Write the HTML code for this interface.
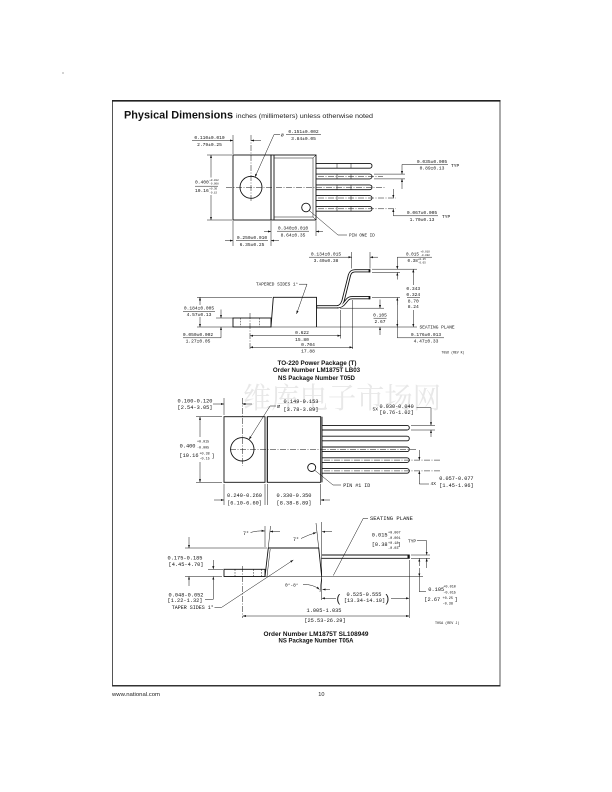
<!DOCTYPE html>
<html><head><meta charset="utf-8"><style>
html,body{margin:0;padding:0;background:#fff;}
svg{display:block;}
</style></head><body>
<svg width="612" height="792" viewBox="0 0 612 792" xmlns="http://www.w3.org/2000/svg">
<defs>
<marker id="a" viewBox="0 0 6 4" refX="6" refY="2" markerWidth="3.2" markerHeight="2.2" markerUnits="userSpaceOnUse" orient="auto-start-reverse"><path d="M0,0L6,2L0,4z" fill="#111"/></marker>
<style>
.o{fill:none;stroke:#111;stroke-width:0.9}
.d{fill:none;stroke:#111;stroke-width:0.5}
.c{fill:none;stroke:#111;stroke-width:0.5;stroke-dasharray:6 1.5 1 1.5}
.h{fill:none;stroke:#111;stroke-width:0.5;stroke-dasharray:1.6 1.2}
.ae{marker-end:url(#a)}
.as{marker-start:url(#a)}
.t{font-family:"Liberation Mono",monospace;fill:#111}
.s1{font-size:4.6px}
.s2{font-size:5.3px}
.b{font-family:"Liberation Sans",Arial,sans-serif;font-weight:bold;fill:#111}
</style>
</defs>

<!-- watermark -->
<text x="243" y="408" font-family="'Noto Serif CJK SC','Noto Sans CJK SC',serif" font-size="29" fill="#e8e8e8" textLength="198" lengthAdjust="spacingAndGlyphs">维库电子市场网</text>

<!-- page dot -->
<circle cx="63" cy="73" r="0.6" fill="#666"/>

<!-- frame -->
<rect x="112.5" y="100.5" width="387.5" height="585.5" fill="none" stroke="#555" stroke-width="1"/>
<line x1="112" y1="100.8" x2="500.5" y2="100.8" stroke="#222" stroke-width="1.6"/>
<line x1="112" y1="685.8" x2="500.5" y2="685.8" stroke="#333" stroke-width="1.5"/>

<!-- title -->
<text x="124" y="118.5" class="b" font-size="11.3" textLength="109" lengthAdjust="spacingAndGlyphs">Physical Dimensions</text>
<text x="236" y="117.8" font-family="'Liberation Sans',Arial,sans-serif" font-size="6.5" fill="#222" textLength="137" lengthAdjust="spacingAndGlyphs">inches (millimeters) unless otherwise noted</text>

<!-- ================= DRAWING 1: TOP VIEW ================= -->
<rect x="233" y="155" width="38" height="65" class="o"/>
<rect x="271" y="155" width="45" height="65" class="o"/>
<line x1="274" y1="155" x2="274" y2="220" class="o"/>
<path d="M274,158H313V217H274M316,155L313,158M316,220L313,217" class="d"/>
<circle cx="251" cy="187.3" r="11" class="o"/>
<circle cx="306" cy="207.5" r="4.3" class="o"/>
<g class="o">
<path d="M316,163.4H369.6A2.4,2.4 0 0 1 369.6,168.2H316"/>
<path d="M316,174.1H369.6A2.4,2.4 0 0 1 369.6,178.9H316"/>
<path d="M316,184.9H369.6A2.4,2.4 0 0 1 369.6,189.7H316"/>
<path d="M316,195.6H369.6A2.4,2.4 0 0 1 369.6,200.4H316"/>
<path d="M316,206.4H369.6A2.4,2.4 0 0 1 369.6,211.2H316"/>
</g>
<g class="d">
<path d="M337,163.4V168.2M351,163.4V168.2M337,174.1V178.9M351,174.1V178.9M337,184.9V189.7M351,184.9V189.7M337,195.6V200.4M351,195.6V200.4M337,206.4V211.2M351,206.4V211.2"/>
</g>
<line x1="226" y1="187.3" x2="386" y2="187.3" class="c"/>
<line x1="251" y1="135" x2="251" y2="201" class="c"/>
<line x1="318" y1="176.5" x2="383" y2="176.5" class="c"/>
<line x1="318" y1="198" x2="396" y2="198" class="c"/>
<line x1="318" y1="208.8" x2="396" y2="208.8" class="c"/>

<!-- 0.110 -->
<line x1="233" y1="135" x2="233" y2="154" class="d"/>
<line x1="192" y1="140.5" x2="233" y2="140.5" class="d ae"/>
<line x1="261" y1="140.5" x2="251" y2="140.5" class="d ae"/>
<text x="209.5" y="139" class="t s1" text-anchor="middle">0.110±0.010</text>
<text x="209.5" y="146" class="t s1" text-anchor="middle">2.79±0.25</text>
<!-- dia 0.151 -->
<polyline points="255,177 274,134.6 280,134.6" class="d as"/>
<text x="280.8" y="136.6" class="t" font-size="5">⌀</text>
<line x1="286" y1="134.6" x2="321" y2="134.6" class="d"/>
<text x="303.5" y="133" class="t s1" text-anchor="middle">0.151±0.002</text>
<text x="303.5" y="140" class="t s1" text-anchor="middle">3.84±0.05</text>
<!-- 0.400 -->
<line x1="207" y1="155" x2="232" y2="155" class="d"/>
<line x1="207" y1="220" x2="232" y2="220" class="d"/>
<line x1="211" y1="177.5" x2="211" y2="155" class="d ae"/>
<line x1="211" y1="195" x2="211" y2="220" class="d ae"/>
<text x="208.8" y="183.5" class="t s1" text-anchor="end">0.400</text>
<text x="209.3" y="180.8" class="t" font-size="2.6">+0.012</text>
<text x="209.3" y="184.6" class="t" font-size="2.6">-0.008</text>
<line x1="195" y1="186.2" x2="218" y2="186.2" class="d"/>
<text x="208.8" y="192.2" class="t s1" text-anchor="end">10.16</text>
<text x="209.3" y="189.5" class="t" font-size="2.6">+0.30</text>
<text x="209.3" y="193.3" class="t" font-size="2.6">-0.15</text>
<!-- 0.250 -->
<line x1="233" y1="221" x2="233" y2="246" class="d"/>
<line x1="271" y1="221" x2="271" y2="246" class="d"/>
<line x1="225" y1="240.6" x2="233" y2="240.6" class="d ae"/>
<line x1="279" y1="240.6" x2="271" y2="240.6" class="d ae"/>
<line x1="236" y1="240.6" x2="268" y2="240.6" class="d"/>
<text x="252" y="239.2" class="t s1" text-anchor="middle">0.250±0.010</text>
<text x="252" y="246.2" class="t s1" text-anchor="middle">6.35±0.25</text>
<!-- 0.340 -->
<line x1="316" y1="221" x2="316" y2="236" class="d"/>
<line x1="264" y1="231.5" x2="271" y2="231.5" class="d ae"/>
<line x1="323" y1="231.5" x2="316" y2="231.5" class="d ae"/>
<line x1="277" y1="231.2" x2="309" y2="231.2" class="d"/>
<text x="293" y="229.6" class="t s1" text-anchor="middle">0.340±0.010</text>
<text x="293" y="236.4" class="t s1" text-anchor="middle">8.64±0.35</text>
<!-- pin one id -->
<polyline points="309.2,210.5 338,235 347,235" class="d"/>
<text x="349" y="236.6" class="t" font-size="4.3">PIN ONE ID</text>
<!-- 0.035 -->
<line x1="374" y1="174.1" x2="405" y2="174.1" class="d"/>
<line x1="374" y1="178.9" x2="405" y2="178.9" class="d"/>
<line x1="402" y1="164.5" x2="402" y2="174.1" class="d ae"/>
<line x1="402" y1="189" x2="402" y2="178.9" class="d ae"/>
<line x1="402" y1="164.5" x2="448" y2="164.5" class="d"/>
<text x="432" y="162.8" class="t s1" text-anchor="middle">0.035±0.005</text>
<text x="432" y="169.6" class="t s1" text-anchor="middle">0.89±0.13</text>
<text x="451" y="166.8" class="t s1">TYP</text>
<!-- 0.067 -->
<line x1="393.3" y1="189" x2="393.3" y2="198" class="d ae"/>
<line x1="393.3" y1="215.8" x2="393.3" y2="208.8" class="d ae"/>
<line x1="393.3" y1="215.8" x2="438" y2="215.8" class="d"/>
<text x="422" y="214.2" class="t s1" text-anchor="middle">0.067±0.005</text>
<text x="422" y="221" class="t s1" text-anchor="middle">1.70±0.13</text>
<text x="442" y="218" class="t s1">TYP</text>

<!-- ================= DRAWING 1: SIDE VIEW ================= -->
<rect x="233" y="318" width="38" height="9" class="o"/>
<line x1="240.7" y1="318" x2="240.7" y2="327" class="h"/>
<line x1="259.5" y1="318" x2="259.5" y2="327" class="h"/>
<line x1="250" y1="313" x2="250" y2="349" class="c"/>
<path d="M271,327L273.3,297.3H316.5V327" class="o"/>
<g fill="none" stroke="#111" stroke-width="3.2">
<path d="M316.5,306.8L337,306.8Q341,306.8 343,301L349.5,275Q350.8,270.8 355,270.8L370,270.8"/>
<path d="M337,306.8Q342,306.8 345,302.5L347.5,299.5Q349,297.7 352,297.7L370,297.7"/>
</g>
<g fill="none" stroke="#fff" stroke-width="1.4">
<path d="M317.2,306.8L337,306.8Q341,306.8 343,301L349.5,275Q350.8,270.8 355,270.8L369.3,270.8"/>
<path d="M338,306.8Q342,306.8 345,302.5L347.5,299.5Q349,297.7 352,297.7L369.3,297.7"/>
</g>
<rect x="368.6" y="269.2" width="1.8" height="3.2" fill="#111"/>
<rect x="368.6" y="296.1" width="1.8" height="3.2" fill="#111"/>
<line x1="197" y1="327" x2="417" y2="327" class="d"/>
<text x="419.5" y="328.6" class="t" font-size="4.5">SEATING PLANE</text>
<text x="256" y="285.6" class="t" font-size="4.4">TAPERED SIDES 1°</text>
<polyline points="299,284.2 307,284.2 296.5,314" class="d ae"/>
<!-- 0.184 -->
<line x1="197" y1="297.3" x2="272" y2="297.3" class="d"/>
<line x1="200" y1="305" x2="200" y2="297.3" class="d ae"/>
<line x1="200" y1="317" x2="200" y2="327" class="d ae"/>
<line x1="183" y1="311.3" x2="215" y2="311.3" class="d"/>
<text x="199" y="309.7" class="t s1" text-anchor="middle">0.184±0.005</text>
<text x="199" y="316.2" class="t s1" text-anchor="middle">4.57±0.13</text>
<!-- 0.050 -->
<line x1="216" y1="318" x2="233" y2="318" class="d"/>
<line x1="221" y1="309.5" x2="221" y2="318" class="d ae"/>
<line x1="221" y1="337.8" x2="221" y2="327" class="d ae"/>
<line x1="221" y1="337.8" x2="183" y2="337.8" class="d"/>
<text x="198" y="336.2" class="t s1" text-anchor="middle">0.050±0.002</text>
<text x="198" y="342.6" class="t s1" text-anchor="middle">1.27±0.05</text>
<!-- 0.134 -->
<line x1="351.7" y1="268.5" x2="351.7" y2="252" class="d"/>
<line x1="370" y1="268.5" x2="370" y2="252" class="d"/>
<line x1="309" y1="257.2" x2="351.7" y2="257.2" class="d ae"/>
<line x1="378" y1="257.2" x2="370" y2="257.2" class="d ae"/>
<text x="326" y="255.7" class="t s1" text-anchor="middle">0.134±0.015</text>
<text x="326" y="262" class="t s1" text-anchor="middle">3.40±0.38</text>
<!-- 0.015 top right -->
<line x1="372" y1="269.2" x2="417" y2="269.2" class="d"/>
<line x1="372" y1="272.4" x2="400" y2="272.4" class="d"/>
<line x1="397.3" y1="257.2" x2="397.3" y2="269.2" class="d ae"/>
<line x1="397.3" y1="279.5" x2="397.3" y2="272.4" class="d ae"/>
<line x1="397.3" y1="257.2" x2="432" y2="257.2" class="d"/>
<text x="406" y="255.5" class="t" font-size="4.3">0.015</text>
<text x="420.5" y="252.4" class="t" font-size="2.6">+0.010</text>
<text x="420.5" y="256" class="t" font-size="2.6">-0.002</text>
<text x="407.5" y="262" class="t" font-size="4.3">0.38</text>
<text x="418" y="259.9" class="t" font-size="2.6">+0.25</text>
<text x="418" y="263.5" class="t" font-size="2.6">-0.05</text>
<!-- 0.343 -->
<line x1="413.3" y1="285" x2="413.3" y2="269.2" class="d ae"/>
<line x1="413.3" y1="310" x2="413.3" y2="327" class="d ae"/>
<text x="413.3" y="290.1" class="t s1" text-anchor="middle">0.343</text>
<text x="413.3" y="295.9" class="t s1" text-anchor="middle">0.324</text>
<line x1="407" y1="297.6" x2="420" y2="297.6" class="d"/>
<text x="413.3" y="302.7" class="t s1" text-anchor="middle">8.70</text>
<text x="413.3" y="308.2" class="t s1" text-anchor="middle">8.24</text>
<!-- 0.105 -->
<line x1="340" y1="308.2" x2="384" y2="308.2" class="d"/>
<line x1="380" y1="299.5" x2="380" y2="308.2" class="d ae"/>
<line x1="380" y1="335" x2="380" y2="327" class="d ae"/>
<text x="380" y="316.4" class="t s1" text-anchor="middle">0.105</text>
<line x1="373.5" y1="318.2" x2="386.5" y2="318.2" class="d"/>
<text x="380" y="323" class="t s1" text-anchor="middle">2.67</text>
<!-- 0.176 -->
<line x1="372" y1="297.5" x2="400" y2="297.5" class="d"/>
<line x1="397.3" y1="297.5" x2="397.3" y2="337.8" class="d"/>
<line x1="397.3" y1="305" x2="397.3" y2="297.5" class="d ae"/>
<line x1="397.3" y1="320" x2="397.3" y2="327" class="d ae"/>
<line x1="397.3" y1="337.8" x2="444" y2="337.8" class="d"/>
<text x="426" y="336.2" class="t s1" text-anchor="middle">0.176±0.013</text>
<text x="426" y="342.6" class="t s1" text-anchor="middle">4.47±0.33</text>
<!-- 0.622 / 0.704 -->
<line x1="340.7" y1="310" x2="340.7" y2="338.5" class="d"/>
<line x1="352.7" y1="300" x2="352.7" y2="349" class="d"/>
<line x1="250" y1="335.7" x2="340.7" y2="335.7" class="d as ae"/>
<text x="302" y="333.8" class="t s1" text-anchor="middle">0.622</text>
<text x="302" y="341.2" class="t s1" text-anchor="middle">15.80</text>
<line x1="250" y1="347.3" x2="352.7" y2="347.3" class="d as ae"/>
<text x="308" y="345.9" class="t s1" text-anchor="middle">0.704</text>
<text x="308" y="352.7" class="t s1" text-anchor="middle">17.88</text>
<text x="441.5" y="353.3" class="t" font-size="3.2">T05D (REV K)</text>

<!-- title block 1 -->
<text x="317" y="364.8" class="b" font-size="6.6" text-anchor="middle" textLength="79" lengthAdjust="spacingAndGlyphs">TO-220 Power Package (T)</text>
<text x="316.5" y="372" class="b" font-size="6.6" text-anchor="middle" textLength="87.3" lengthAdjust="spacingAndGlyphs">Order Number LM1875T LB03</text>
<text x="316.5" y="380.2" class="b" font-size="6.6" text-anchor="middle" textLength="77" lengthAdjust="spacingAndGlyphs">NS Package Number T05D</text>

<!-- ================= DRAWING 2: TOP VIEW ================= -->
<rect x="224" y="416.7" width="41" height="65.6" class="o"/>
<line x1="267.3" y1="416.7" x2="267.3" y2="482.3" class="o"/>
<rect x="267.3" y="416.7" width="53.4" height="65.6" class="o"/>
<line x1="322" y1="416.7" x2="322" y2="482.3" class="o"/>
<circle cx="242.3" cy="449.3" r="11.7" class="o"/>
<circle cx="311.7" cy="467.5" r="4" class="o"/>
<g class="o">
<path d="M322,425.4H407A2.3,2.3 0 0 1 407,430H322"/>
<path d="M322,436.2H407A2.3,2.3 0 0 1 407,440.8H322"/>
<path d="M322,447H407A2.3,2.3 0 0 1 407,451.6H322"/>
<path d="M322,457.8H407A2.3,2.3 0 0 1 407,462.4H322"/>
<path d="M322,468.6H407A2.3,2.3 0 0 1 407,473.2H322"/>
</g>
<line x1="230" y1="449.3" x2="417" y2="449.3" class="c"/>
<line x1="242.3" y1="398" x2="242.3" y2="466" class="c"/>
<line x1="324" y1="460.1" x2="441" y2="460.1" class="c"/>
<line x1="324" y1="470.9" x2="441" y2="470.9" class="c"/>
<!-- 0.100-0.120 -->
<line x1="224" y1="415" x2="224" y2="398" class="d"/>
<line x1="213" y1="404" x2="224" y2="404" class="d ae"/>
<line x1="252" y1="404" x2="242.3" y2="404" class="d ae"/>
<text x="195" y="402.6" class="t s2" text-anchor="middle">0.100-0.120</text>
<text x="195" y="409" class="t s2" text-anchor="middle">[2.54-3.05]</text>
<!-- dia -->
<polyline points="249,439.5 270,406 276,406" class="d as"/>
<text x="277" y="407.8" class="t" font-size="5.5">⌀</text>
<text x="283.5" y="402.8" class="t s2">0.149-0.153</text>
<text x="283.5" y="411.2" class="t s2">[3.78-3.89]</text>
<!-- 0.400 -->
<line x1="196" y1="416.7" x2="222" y2="416.7" class="d"/>
<line x1="196" y1="482.3" x2="222" y2="482.3" class="d"/>
<line x1="200" y1="437" x2="200" y2="416.7" class="d ae"/>
<line x1="200" y1="462" x2="200" y2="482.3" class="d ae"/>
<text x="195.5" y="447.6" class="t s2" text-anchor="end">0.400</text>
<text x="197" y="442.4" class="t" font-size="3.4">+0.015</text>
<text x="197" y="448.4" class="t" font-size="3.4">-0.005</text>
<text x="198.5" y="457" class="t s2" text-anchor="end">[10.16</text>
<text x="199.5" y="454.4" class="t" font-size="3.4">+0.38</text>
<text x="199.5" y="459.6" class="t" font-size="3.4">-0.15</text>
<text x="211.5" y="457.3" class="t s2">]</text>
<!-- 0.240 / 0.330 -->
<line x1="224" y1="484" x2="224" y2="505" class="d"/>
<line x1="265" y1="484" x2="265" y2="505" class="d"/>
<line x1="267.3" y1="484" x2="267.3" y2="505" class="d"/>
<line x1="320.7" y1="484" x2="320.7" y2="505" class="d"/>
<line x1="214" y1="500" x2="224" y2="500" class="d ae"/>
<line x1="330" y1="500" x2="320.7" y2="500" class="d ae"/>
<text x="244.5" y="496.8" class="t s2" text-anchor="middle">0.240-0.260</text>
<text x="244.5" y="504.5" class="t s2" text-anchor="middle">[6.10-6.60]</text>
<text x="294" y="496.8" class="t s2" text-anchor="middle">0.330-0.350</text>
<text x="294" y="504.5" class="t s2" text-anchor="middle">[8.38-8.89]</text>
<!-- pin #1 -->
<polyline points="314.8,470.3 333,485 341,485" class="d"/>
<text x="343.3" y="486.8" class="t" font-size="5">PIN #1 ID</text>
<!-- 5X -->
<line x1="411" y1="425.4" x2="435" y2="425.4" class="d"/>
<line x1="411" y1="430" x2="435" y2="430" class="d"/>
<line x1="416.5" y1="407.7" x2="431" y2="407.7" class="d"/>
<line x1="431" y1="407.7" x2="431" y2="425.4" class="d ae"/>
<line x1="431" y1="437" x2="431" y2="430" class="d ae"/>
<text x="372.5" y="410.6" class="t" font-size="4.5">5X</text>
<text x="379.5" y="407.8" class="t" font-size="5.2">0.030-0.040</text>
<text x="379.5" y="413.9" class="t" font-size="5.2">[0.76-1.02]</text>
<!-- 4X -->
<line x1="419.3" y1="450" x2="419.3" y2="460.1" class="d ae"/>
<line x1="419.3" y1="478" x2="419.3" y2="470.9" class="d ae"/>
<polyline points="419.3,478 419.3,484 429,484" class="d"/>
<text x="430.5" y="484.8" class="t" font-size="4.5">4X</text>
<text x="439.3" y="480.2" class="t" font-size="5.2">0.057-0.077</text>
<text x="439.3" y="486.8" class="t" font-size="5.2">[1.45-1.96]</text>

<!-- ================= DRAWING 2: SIDE VIEW ================= -->
<rect x="224" y="569.3" width="41" height="7.2" class="o"/>
<line x1="235" y1="569.3" x2="235" y2="576.5" class="h"/>
<line x1="253.3" y1="569.3" x2="253.3" y2="576.5" class="h"/>
<line x1="261.7" y1="569.3" x2="261.7" y2="576.5" class="h"/>
<line x1="242.7" y1="566" x2="242.7" y2="618" class="c"/>
<path d="M265,576.5L268.3,548H318.7L321.7,576.5" class="o"/>
<line x1="267" y1="576.5" x2="270.2" y2="549" class="d"/>
<path d="M321.7,555H409.3V558.3H321.2" class="o"/>
<rect x="407.5" y="555" width="1.8" height="3.3" fill="#111"/>
<line x1="265" y1="576.5" x2="423" y2="576.5" class="d"/>
<line x1="185" y1="576.5" x2="222" y2="576.5" class="d"/>
<line x1="185" y1="548" x2="267" y2="548" class="d"/>
<line x1="208" y1="569.3" x2="223" y2="569.3" class="d"/>
<!-- 0.175-0.185 -->
<line x1="189" y1="537" x2="189" y2="548" class="d ae"/>
<line x1="189" y1="586" x2="189" y2="576.5" class="d ae"/>
<text x="185" y="559.5" class="t s2" text-anchor="middle">0.175-0.185</text>
<text x="186" y="566" class="t s2" text-anchor="middle">[4.45-4.70]</text>
<!-- 0.048-0.052 -->
<line x1="213.3" y1="560" x2="213.3" y2="569.3" class="d ae"/>
<line x1="213.3" y1="585" x2="213.3" y2="576.5" class="d ae"/>
<polyline points="213.3,585 213.3,599.3 205,599.3" class="d"/>
<text x="186" y="596.3" class="t s2" text-anchor="middle">0.048-0.052</text>
<text x="185" y="602" class="t s2" text-anchor="middle">[1.22-1.32]</text>
<!-- taper sides -->
<text x="171.7" y="609" class="t" font-size="5">TAPER SIDES 1°</text>
<polyline points="214.5,607.3 221.7,607.3 293.3,560" class="d ae"/>
<!-- 7 deg left -->
<line x1="265" y1="526" x2="265" y2="547" class="d"/>
<line x1="268.3" y1="548" x2="270.5" y2="526" class="d"/>
<text x="243" y="535" class="t" font-size="5">7°</text>
<path d="M250.5,532.5Q257,530.5 264.8,531" class="d ae"/>
<line x1="280" y1="531.5" x2="270" y2="531.5" class="d ae"/>
<!-- 7 deg right -->
<line x1="321.7" y1="522" x2="321.7" y2="600" class="d"/>
<line x1="318.7" y1="548" x2="316" y2="523" class="d"/>
<text x="293" y="541" class="t" font-size="5">7°</text>
<path d="M301,538.5Q308,535 316.3,532.5" class="d ae"/>
<line x1="332" y1="531.7" x2="322" y2="531.7" class="d ae"/>
<!-- seating plane label -->
<text x="370" y="520" class="t" font-size="5.5">SEATING PLANE</text>
<polyline points="368,518.3 363.3,518.3 333.3,575.5" class="d"/>
<!-- 0-8 deg -->
<text x="285" y="586.5" class="t" font-size="4.5">0°-8°</text>
<path d="M303,584.5Q313,584 319.5,589.5" class="d ae"/>
<line x1="321.7" y1="576.5" x2="320" y2="592" class="d"/>
<line x1="330" y1="589.5" x2="322.5" y2="589.5" class="d ae"/>
<!-- 0.015 TYP -->
<line x1="411" y1="555" x2="430" y2="555" class="d"/>
<line x1="411" y1="558.3" x2="430" y2="558.3" class="d"/>
<line x1="417" y1="540.7" x2="426.7" y2="540.7" class="d"/>
<line x1="426.7" y1="540.7" x2="426.7" y2="555" class="d ae"/>
<line x1="426.7" y1="568" x2="426.7" y2="558.3" class="d ae"/>
<text x="371.7" y="536.5" class="t s2">0.015</text>
<text x="388" y="533.3" class="t" font-size="3.5">+0.007</text>
<text x="388" y="539" class="t" font-size="3.5">-0.001</text>
<text x="371.7" y="546" class="t s2">[0.38</text>
<text x="388" y="543.8" class="t" font-size="3.5">+0.18</text>
<text x="388" y="548.8" class="t" font-size="3.5">-0.03</text>
<text x="397.5" y="546" class="t s2">]</text>
<text x="408" y="542.5" class="t" font-size="4.5">TYP</text>
<!-- 0.105 -->
<line x1="419.3" y1="566" x2="419.3" y2="558.5" class="d ae"/>
<line x1="419.3" y1="568" x2="419.3" y2="576.5" class="d ae"/>
<polyline points="419.3,576.5 419.3,591.7 426,591.7" class="d"/>
<text x="428.3" y="591" class="t s2">0.105</text>
<text x="443.3" y="587.7" class="t" font-size="3.5">+0.010</text>
<text x="443.3" y="593.3" class="t" font-size="3.5">-0.015</text>
<text x="424.3" y="601" class="t s2">[2.67</text>
<text x="442.5" y="599" class="t" font-size="3.5">+0.25</text>
<text x="442.5" y="604.3" class="t" font-size="3.5">-0.38</text>
<text x="454.5" y="601" class="t s2">]</text>
<!-- 0.525-0.555 -->
<line x1="409.3" y1="560" x2="409.3" y2="618" class="d"/>
<line x1="336" y1="598.3" x2="321.7" y2="598.3" class="d ae"/>
<line x1="391" y1="598.3" x2="409.3" y2="598.3" class="d ae"/>
<text x="336.5" y="601.8" font-family="'Liberation Sans',sans-serif" font-size="11" fill="#111">(</text>
<text x="385.5" y="601.8" font-family="'Liberation Sans',sans-serif" font-size="11" fill="#111">)</text>
<text x="364" y="596" class="t s2" text-anchor="middle">0.525-0.555</text>
<text x="364.5" y="602.2" class="t s2" text-anchor="middle">[13.34-14.10]</text>
<!-- 1.005-1.035 -->
<line x1="242.7" y1="616" x2="409.3" y2="616" class="d as ae"/>
<text x="324" y="611.8" class="t s2" text-anchor="middle">1.005-1.035</text>
<text x="325" y="621.8" class="t s2" text-anchor="middle">[25.53-26.29]</text>
<text x="435" y="624" class="t" font-size="3.4">T05A (REV J)</text>

<!-- title block 2 -->
<text x="316" y="635.8" class="b" font-size="6.6" text-anchor="middle" textLength="105" lengthAdjust="spacingAndGlyphs">Order Number LM1875T SL108949</text>
<text x="316" y="642.6" class="b" font-size="6.6" text-anchor="middle" textLength="75" lengthAdjust="spacingAndGlyphs">NS Package Number T05A</text>

<!-- footer -->
<text x="112" y="696.2" font-family="'Liberation Sans',Arial,sans-serif" font-size="5.6" fill="#222" textLength="48" lengthAdjust="spacingAndGlyphs">www.national.com</text>
<text x="318.3" y="696.2" font-family="'Liberation Sans',Arial,sans-serif" font-size="5.6" fill="#222">10</text>
</svg>
</body></html>
